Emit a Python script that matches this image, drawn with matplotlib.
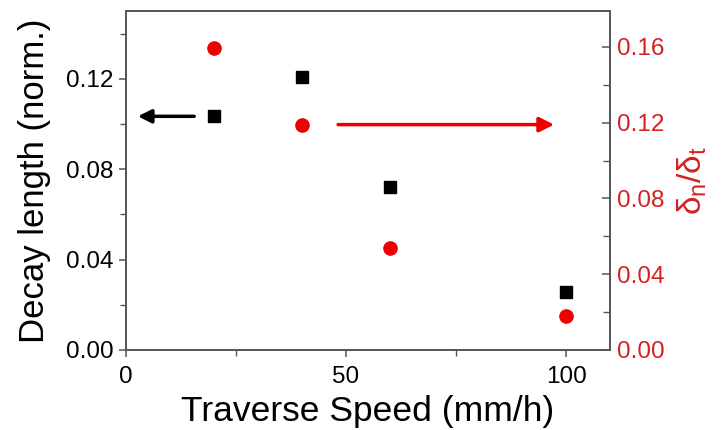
import matplotlib
matplotlib.use("Agg")
import matplotlib.pyplot as plt
from matplotlib.ticker import MultipleLocator, FormatStrFormatter

plt.rcParams['font.family'] = ['Liberation Sans', 'DejaVu Sans']
plt.rcParams['mathtext.fontset'] = 'custom'
plt.rcParams['mathtext.rm'] = 'Liberation Sans'
plt.rcParams['mathtext.it'] = 'Liberation Sans'

speed = [20, 40, 60, 100]
decay_length = [0.1034, 0.1207, 0.0720, 0.0256]
delta_ratio = [0.1595, 0.1190, 0.0540, 0.0180]

red = '#ee0000'
red_text = '#d42020'
spine_col = '#555555'

fig = plt.figure(figsize=(7.26, 4.30), dpi=100)
ax = fig.add_axes([126/726, 1-350/430, (610-126)/726, (350-11)/430])
ax2 = ax.twinx()

ax.plot(speed, decay_length, 's', color='black', markersize=8.5, zorder=3)
ax2.plot(speed, delta_ratio, 'o', color=red, markersize=9.5, zorder=3)

ax.set_xlim(0, 110)
ax.set_ylim(0, 0.15)
ax2.set_ylim(0, 0.179)

ax.xaxis.set_major_locator(MultipleLocator(50))
ax.xaxis.set_minor_locator(MultipleLocator(25))
ax.yaxis.set_major_locator(MultipleLocator(0.04))
ax.yaxis.set_minor_locator(MultipleLocator(0.02))
ax2.yaxis.set_major_locator(MultipleLocator(0.04))
ax2.yaxis.set_minor_locator(MultipleLocator(0.02))

ax.yaxis.set_major_formatter(FormatStrFormatter('%.2f'))
ax2.yaxis.set_major_formatter(FormatStrFormatter('%.2f'))

for a in (ax, ax2):
    for s in a.spines.values():
        s.set_color(spine_col)
        s.set_linewidth(1.2)

ax.tick_params(axis='y', which='major', direction='out', length=5, width=1.1,
               color=spine_col, labelsize=17.5, pad=4)
ax.tick_params(axis='x', which='major', direction='out', length=5, width=1.1,
               color=spine_col, labelsize=17.5, pad=6.5)
ax.tick_params(axis='both', which='minor', direction='out', length=4, width=1.0,
               color=spine_col)
ax2.tick_params(axis='y', which='major', direction='in', length=6, width=1.1,
                color=spine_col, labelsize=17.5, labelcolor=red_text, pad=5)
ax2.tick_params(axis='y', which='minor', direction='in', length=5, width=1.0,
                color=spine_col)

ax.set_xlabel('Traverse Speed (mm/h)', fontsize=25.5, labelpad=5)
ax.set_ylabel('Decay length (norm.)', fontsize=25, labelpad=11)
ax2.set_ylabel(r'$\delta_n/\delta_t$', fontsize=24, color=red_text, labelpad=8)

ax.annotate('', xy=(2.7, 0.1034), xytext=(15.5, 0.1034),
            arrowprops=dict(arrowstyle='-|>', color='black', lw=2.5,
                            mutation_scale=20, shrinkA=0, shrinkB=0))
ax2.annotate('', xy=(97.3, 0.119), xytext=(48.2, 0.119),
             arrowprops=dict(arrowstyle='-|>', color=red, lw=2.5,
                             mutation_scale=22, shrinkA=0, shrinkB=0))

fig.savefig('out.png', dpi=100)
